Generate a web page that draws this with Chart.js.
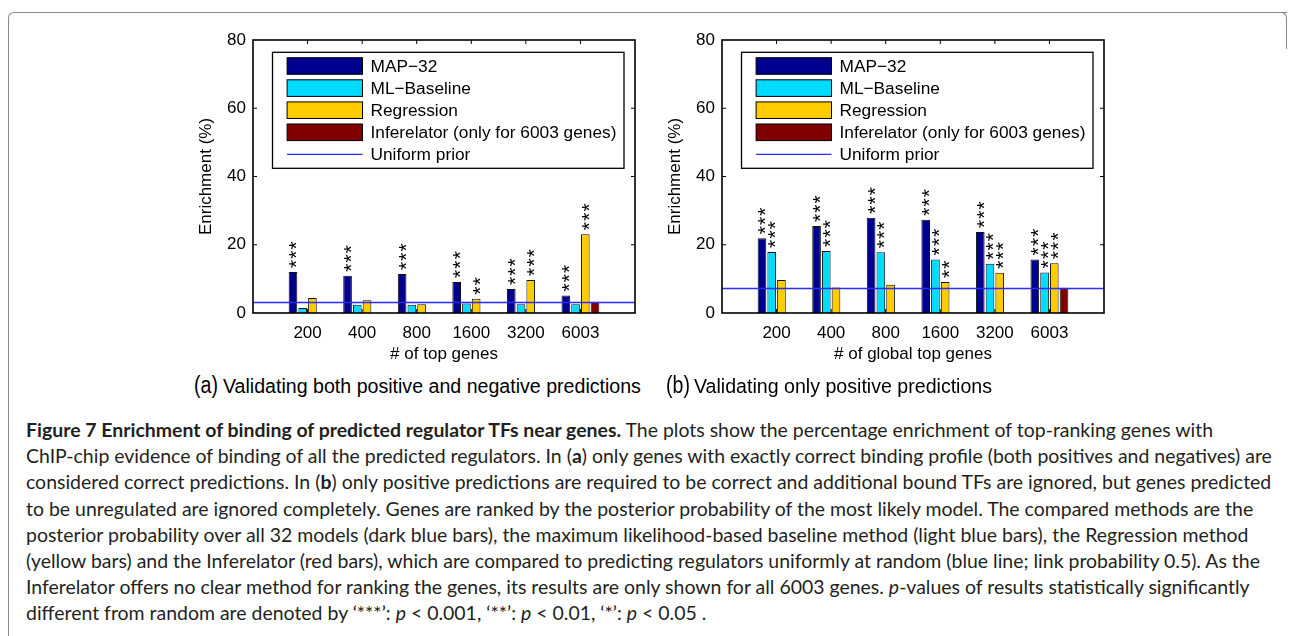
<!DOCTYPE html>
<html>
<head>
<meta charset="utf-8">
<script src="https://cdn.jsdelivr.net/npm/chart.js@4.4.0/dist/chart.umd.min.js"></script>
<style>
  body { margin: 0; background: #fff; }
  #fig { position: relative; width: 1293px; height: 636px; overflow: hidden; background: #fff;
         font-family: 'Liberation Sans', Arial, Helvetica, sans-serif; }
  .frame { position: absolute; left: 8px; top: 12px; width: 1278px; height: 700px;
           border-left: 1.5px solid #8a8a8a; border-top: 1.5px solid #8a8a8a; border-top-left-radius: 6px; }
  .frame-r { position: absolute; left: 1276px; top: 12px; width: 10px; height: 36px;
             border-right: 1.5px solid #8a8a8a; border-top: 1.5px solid #8a8a8a; border-top-right-radius: 6px; }
  canvas { position: absolute; }
  .sub { position: absolute; top: 372px; font-size: 19.6px; color: #000; white-space: nowrap; line-height: 26px; }
  .sub .lab { font-size: 23px; display: inline-block; transform: scaleX(0.85); transform-origin: left center; }
  #caption { position: absolute; left: 26px; top: 417px; color: #231f20; line-height: 26.2px;
             font-family: Lato, 'Open Sans', sans-serif; white-space: nowrap; }
  #caption div { height: 26.2px; }
</style>
</head>
<body>
<div id="fig">
  <div class="frame"></div>
  <div class="frame-r"></div>
  <canvas id="chartA" width="470" height="350" style="left:180px;top:20px;width:470px;height:350px"></canvas>
  <canvas id="chartB" width="470" height="350" style="left:649px;top:20px;width:470px;height:350px"></canvas>
  <div class="sub" style="left:194px"><span class="lab" style="width:29px">(a)</span>Validating both positive and negative predictions</div>
  <div class="sub" style="left:666px"><span class="lab" style="width:28px">(b)</span>Validating only positive predictions</div>
  <div id="caption">
    <div><b>Figure 7 Enrichment of binding of predicted regulator TFs near genes.</b> The plots show the percentage enrichment of top-ranking genes with</div>
    <div id="calib">ChIP-chip evidence of binding of all the predicted regulators. In (<b>a</b>) only genes with exactly correct binding profile (both positives and negatives) are</div>
    <div>considered correct predictions. In (<b>b</b>) only positive predictions are required to be correct and additional bound TFs are ignored, but genes predicted</div>
    <div>to be unregulated are ignored completely. Genes are ranked by the posterior probability of the most likely model. The compared methods are the</div>
    <div>posterior probability over all 32 models (dark blue bars), the maximum likelihood-based baseline method (light blue bars), the Regression method</div>
    <div>(yellow bars) and the Inferelator (red bars), which are compared to predicting regulators uniformly at random (blue line; link probability 0.5). As the</div>
    <div>Inferelator offers no clear method for ranking the genes, its results are only shown for all 6003 genes. <i>p</i>-values of results statistically significantly</div>
    <div>different from random are denoted by ‘***’: <i>p</i> &lt; 0.001, ‘**’: <i>p</i> &lt; 0.01, ‘*’: <i>p</i> &lt; 0.05 .</div>
  </div>
</div>
<script>
// categories on the x axis (MATLAB xlim is [0 7], groups sit at 1..6)
const categories = ['200', '400', '800', '1600', '3200', '6003'];
const seriesNames = ['MAP\u221232', 'ML\u2212Baseline', 'Regression', 'Inferelator (only for 6003 genes)'];
const priorName = 'Uniform prior';
const seriesColors = ['#00008f', '#00dcff', '#ffcc00', '#800000'];
const priorColor = '#2b2bff';

// (a) both positive and negative predictions
const mapA = [12.0, 10.9, 11.4, 9.1, 7.0, 5.1];
const mlA  = [1.5, 2.4, 2.4, 2.8, 2.6, 2.6];
const regA = [4.4, 3.7, 2.6, 4.2, 9.7, 23.1];
const infA = [null, null, null, null, null, 3.3];
const priorA = 3.1;
const starsA = [[3, 3, 3, 3, 3, 3], [0, 0, 0, 0, 0, 0], [0, 0, 0, 2, 3, 3], [0, 0, 0, 0, 0, 0]];

// (b) only positive predictions
const mapB = [21.9, 25.5, 27.9, 27.3, 23.7, 15.7];
const mlB  = [17.9, 18.2, 17.8, 15.7, 14.4, 11.9];
const regB = [9.7, 7.5, 8.3, 9.1, 11.8, 14.6];
const infB = [null, null, null, null, null, 7.4];
const priorB = 7.2;
const starsB = [[3, 3, 3, 3, 3, 3], [3, 3, 3, 3, 3, 3], [0, 0, 0, 2, 3, 3], [0, 0, 0, 0, 0, 0]];

const FONT = "'Liberation Sans', Arial, Helvetica, sans-serif";
Chart.defaults.font.family = FONT;
Chart.defaults.font.size = 17;
Chart.defaults.color = '#000';

// box, inward ticks like matlab
const boxPlugin = {
  id: 'matlabBox',
  afterDatasetsDraw(chart) {
    const { ctx, chartArea: a, scales: { x, y } } = chart;
    ctx.save();
    ctx.strokeStyle = '#000';
    ctx.lineWidth = 1;
    ctx.beginPath();
    y.ticks.forEach(t => {
      if (t.value <= y.min || t.value >= y.max) return;
      const py = y.getPixelForValue(t.value);
      ctx.moveTo(a.left, py); ctx.lineTo(a.left + 4, py);
      ctx.moveTo(a.right, py); ctx.lineTo(a.right - 4, py);
    });
    categories.forEach((c, i) => {
      const px = x.getPixelForValue(i + 1);
      ctx.moveTo(px, a.top); ctx.lineTo(px, a.top + 4);
      ctx.moveTo(px, a.bottom); ctx.lineTo(px, a.bottom - 4);
    });
    ctx.stroke();
    ctx.lineWidth = 1.6;
    ctx.strokeRect(a.left, a.top, a.width, a.height);
    ctx.restore();
  }
};

// significance asterisks, stacked over the bars
const starsPlugin = {
  id: 'stars',
  afterDatasetsDraw(chart, args, opts) {
    const ctx = chart.ctx;
    ctx.save();
    ctx.fillStyle = '#000';
    ctx.font = '21px ' + FONT;
    ctx.textAlign = 'left';
    ctx.textBaseline = 'alphabetic';
    const m = ctx.measureText('*');
    const dx = (m.actualBoundingBoxLeft - m.actualBoundingBoxRight) / 2;
    const dy = (m.actualBoundingBoxAscent - m.actualBoundingBoxDescent) / 2;
    opts.counts.forEach((row, i) => {
      const meta = chart.getDatasetMeta(i);
      row.forEach((n, j) => {
        const bar = meta.data[j];
        if (!n || !bar) return;
        for (let k = 0; k < n; k++) {
          ctx.save();
          ctx.translate(bar.x + 0.5, bar.y - 8 - k * 9.3);
          ctx.rotate(-Math.PI / 2);
          ctx.fillText('*', dx, dy);
          ctx.restore();
        }
      });
    });
    ctx.restore();
  }
};

// legend box inside the axes
const legendPlugin = {
  id: 'boxLegend',
  afterDraw(chart) {
    const { ctx, chartArea: a } = chart;
    const bx = a.left + 19.5, by = a.top + 12.3, bw = 351.5, bh = 116;
    ctx.save();
    ctx.fillStyle = '#fff';
    ctx.fillRect(bx, by, bw, bh);
    ctx.strokeStyle = '#000';
    ctx.lineWidth = 1.3;
    ctx.strokeRect(bx, by, bw, bh);
    ctx.font = '17.3px ' + FONT;
    ctx.textBaseline = 'middle';
    const rows = seriesNames.concat([priorName]);
    rows.forEach((name, i) => {
      const cy = by + 13.7 + i * 22.1;
      if (i < seriesNames.length) {
        ctx.fillStyle = seriesColors[i];
        ctx.fillRect(bx + 14.6, cy - 8.3, 75.4, 16.6);
        ctx.lineWidth = 1;
        ctx.strokeStyle = '#000';
        ctx.strokeRect(bx + 14.6, cy - 8.3, 75.4, 16.6);
      } else {
        ctx.strokeStyle = priorColor;
        ctx.lineWidth = 1.3;
        ctx.beginPath();
        ctx.moveTo(bx + 14.6, cy); ctx.lineTo(bx + 90, cy);
        ctx.stroke();
      }
      ctx.fillStyle = '#000';
      ctx.fillText(name, bx + 98, cy + 1);
    });
    ctx.restore();
  }
};

function makeChart(id, series, prior, stars, xTitle) {
  const datasets = series.map((vals, i) => ({
    type: 'bar',
    label: seriesNames[i],
    data: vals.map((v, j) => ({ x: j + 1, y: v })),
    backgroundColor: seriesColors[i],
    borderColor: '#111',
    borderWidth: 1,
    categoryPercentage: 0.713,
    barPercentage: 0.89,
    order: 1
  }));
  datasets.push({
    type: 'line',
    label: priorName,
    data: [{ x: 0, y: prior }, { x: 7, y: prior }],
    borderColor: priorColor,
    borderWidth: 1.5,
    pointRadius: 0,
    order: 0
  });

  return new Chart(document.getElementById(id), {
    type: 'bar',
    data: { datasets },
    options: {
      responsive: false,
      animation: false,
      layout: { padding: { top: 20, right: 15, left: 0, bottom: 0 } },
      plugins: { legend: { display: false }, tooltip: { enabled: false }, stars: { counts: stars } },
      scales: {
        x: {
          type: 'linear', min: 0, max: 7, offset: false,
          grid: { display: false, drawTicks: false, offset: false },
          border: { display: false },
          ticks: { stepSize: 1, autoSkip: false, maxRotation: 0, padding: 10,
                   callback: v => categories[v - 1] || '' },
          title: { display: true, text: xTitle, padding: { top: 0, bottom: 5 } },
          afterFit: s => { s.height = 57; }
        },
        y: {
          min: 0, max: 80,
          grid: { display: false, drawTicks: false },
          border: { display: false },
          ticks: { stepSize: 20, padding: 7 },
          title: { display: true, text: 'Enrichment (%)', padding: { top: 16, bottom: 0 } },
          afterFit: s => { s.width = 73; }
        }
      }
    },
    plugins: [boxPlugin, starsPlugin, legendPlugin]
  });
}

makeChart('chartA', [mapA, mlA, regA, infA], priorA, starsA, '# of top genes');
makeChart('chartB', [mapB, mlB, regB, infB], priorB, starsB, '# of global top genes');

// fit caption size so the second line spans like the original
const cap = document.getElementById('caption');
cap.style.fontSize = '17px';
const range = document.createRange();
range.selectNodeContents(document.getElementById('calib'));
const tw = range.getBoundingClientRect().width;
cap.style.fontSize = (17 * 1247 / tw).toFixed(2) + 'px';
</script>
</body>
</html>
